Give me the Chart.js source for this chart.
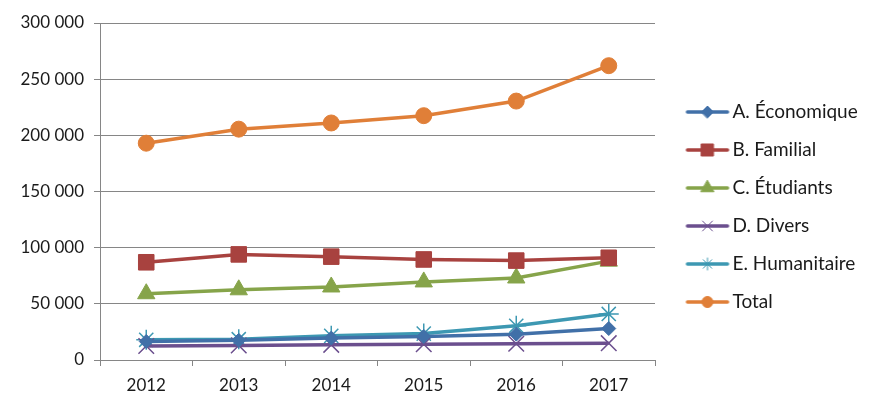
<!DOCTYPE html>
<html lang="fr">
<head>
<meta charset="UTF-8">
<title>Admissions</title>
<style>
  html, body { margin: 0; padding: 0; background: #fff; }
  #wrap { width: 881px; height: 412px; }
</style>
</head>
<body>
<div id="wrap"><canvas id="graphique"></canvas></div>
<script src="https://cdn.jsdelivr.net/npm/chart.js"></script>
<script>
const annees = ['2012', '2013', '2014', '2015', '2016', '2017'];
const economique  = [16500, 17500, 19500, 21000, 23000, 28000];
const familial    = [87000, 94000, 92000, 89500, 88500, 91000];
const etudiants   = [59000, 62500, 65000, 69500, 73000, 88000];
const divers      = [12500, 13000, 13500, 14000, 14500, 15000];
const humanitaire = [18000, 18500, 21500, 23500, 30500, 41000];
const total       = [193000, 205500, 211000, 217500, 230500, 262000];
const graduations = [0, 50000, 100000, 150000, 200000, 250000, 300000];

const series = [
  { nom: 'A. Économique',  val: economique,  coul: '#4170A8', forme: 'rectRot', r: 7,  lr: 6,   bw: 1 },
  { nom: 'B. Familial',    val: familial,    coul: '#A8423F', forme: 'rect',    r: 11, lr: 8.5, bw: 1 },
  { nom: 'C. Étudiants',   val: etudiants,   coul: '#86A44A', forme: 'triangle',r: 10, lr: 7.5, bw: 1 },
  { nom: 'D. Divers',      val: divers,      coul: '#6B4F8E', forme: 'crossRot',r: 11, lr: 7,   bw: 1.5 },
  { nom: 'E. Humanitaire', val: humanitaire, coul: '#3D98B2', forme: 'star',    r: 10, lr: 6,   bw: 1.5 },
  { nom: 'Total',          val: total,       coul: '#E07F38', forme: 'circle',  r: 8,  lr: 5.5, bw: 1 }
];

// image ligne + marqueur pour la légende (décalée vers la droite dans la case)
function iconeLegende(s) {
  const c = document.createElement('canvas');
  c.width = 64; c.height = 20;
  const g = c.getContext('2d');
  g.strokeStyle = s.coul;
  g.lineWidth = 3.5;
  g.lineCap = 'round';
  g.beginPath(); g.moveTo(21, 10); g.lineTo(61, 10); g.stroke();
  g.fillStyle = s.coul;
  g.lineWidth = 1;
  Chart.helpers.drawPoint(g, { pointStyle: s.forme, radius: s.lr, rotation: 0, borderWidth: 1 }, 41, 10);
  return c;
}

const espace = v => String(v).replace(/\B(?=(\d{3})+(?!\d))/g, ' ');

// largeur fixe de la légende pour caler la zone de tracé, et centrage vertical
const largeurLegende = {
  id: 'largeurLegende',
  beforeLayout(chart) {
    const lg = chart.legend;
    if (lg && !lg._cale) {
      const fit = lg.fit;
      lg.fit = function () { fit.call(this); this.width = 226; };
      lg._cale = true;
    }
  },
  afterLayout(chart) {
    if (chart.legend) chart.legend.bottom = 391;
  }
};

new Chart(document.getElementById('graphique'), {
  type: 'line',
  data: {
    labels: annees,
    datasets: series.map(s => ({
      label: s.nom,
      data: s.val,
      borderColor: s.coul,
      backgroundColor: s.coul,
      borderWidth: 3.5,
      pointStyle: s.forme,
      pointRadius: s.r,
      pointBorderWidth: s.bw,
      pointBackgroundColor: s.coul,
      pointBorderColor: s.coul,
      tension: 0,
      icone: iconeLegende(s)
    }))
  },
  options: {
    responsive: true,
    maintainAspectRatio: false,
    animation: false,
    layout: { padding: { left: 14, top: 23, right: 0, bottom: 0 } },
    plugins: {
      tooltip: { enabled: false },
      legend: {
        position: 'right',
        align: 'center',
        labels: {
          usePointStyle: true,
          pointStyleWidth: 49,
          padding: 19,
          color: '#1a1a1a',
          font: { family: 'Lato', size: 19 },
          generateLabels: chart => chart.data.datasets.map((d, i) => ({
            text: d.label,
            pointStyle: d.icone,
            fillStyle: d.borderColor,
            strokeStyle: d.borderColor,
            lineWidth: 0,
            hidden: false,
            datasetIndex: i,
            fontColor: '#1a1a1a'
          }))
        }
      }
    },
    scales: {
      x: {
        offset: true,
        grid: { display: true, offset: true, drawOnChartArea: false, color: '#868686', tickLength: 6, tickColor: '#868686' },
        border: { color: '#868686', width: 1 },
        ticks: { color: '#1a1a1a', font: { family: 'Lato', size: 17 }, padding: 9 },
        afterFit: sc => { sc.height = 52; }
      },
      y: {
        min: 0,
        max: 300000,
        afterBuildTicks: sc => { sc.ticks = graduations.map(v => ({ value: v })); },
        grid: { color: '#868686', tickLength: 6, tickColor: '#868686' },
        border: { color: '#868686', width: 1 },
        ticks: { color: '#1a1a1a', font: { family: 'Lato', size: 17 }, padding: 10, callback: v => espace(v) },
        afterFit: sc => { sc.width = 86; }
      }
    }
  },
  plugins: [largeurLegende]
});
</script>
</body>
</html>
